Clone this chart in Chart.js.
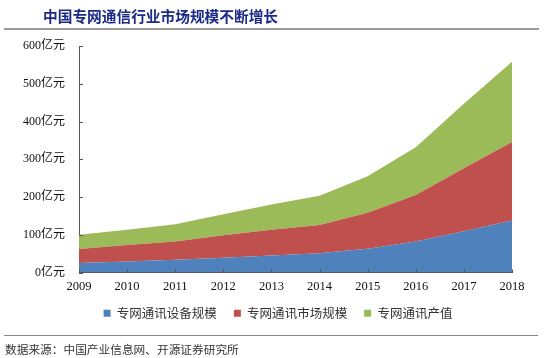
<!DOCTYPE html>
<html><head><meta charset="utf-8">
<script src="https://cdn.jsdelivr.net/npm/chart.js@4"></script>
<style>
html,body{margin:0;padding:0;background:#fff;width:554px;height:358px;overflow:hidden;}
#wrap{position:absolute;left:0;top:0;width:554px;height:358px;}
#title{position:absolute;left:43px;top:5px;font-family:'Noto Sans CJK SC';font-weight:bold;font-size:14.7px;color:#1b2a86;white-space:nowrap;letter-spacing:0px;}
#topline{position:absolute;left:4px;top:28px;width:535px;height:2px;background:#9a9a9a;}
#botline{position:absolute;left:4px;top:335px;width:534px;height:1px;background:#888;}
#src{position:absolute;left:5px;top:340px;font-family:'Noto Sans CJK SC';font-size:11.7px;color:#333;white-space:nowrap;}
</style></head>
<body>
<div id="wrap"><canvas id="c" width="554" height="358"></canvas></div>
<div id="title">中国专网通信行业市场规模不断增长</div>
<div id="topline"></div>
<div id="botline"></div>
<div id="src">数据来源：中国产业信息网、开源证券研究所</div>
<script>
const years = ['2009','2010','2011','2012','2013','2014','2015','2016','2017','2018'];
const equipment = [25, 29, 34, 39, 45, 51, 63, 82, 109, 138];
const market = [37, 44, 48, 60, 68, 75, 95, 123, 167, 208];
const output = [38, 40, 46, 55, 67, 77, 97, 127, 171, 212];
const seriesNames = ['专网通讯设备规模', '专网通讯市场规模', '专网通讯产值'];
const colors = ['#4F81BD', '#C0504D', '#9BBB59'];

const axisColor = '#555';
const innerTicks = {
  id: 'innerTicks',
  afterDatasetsDraw(chart) {
    const ctx = chart.ctx, x = chart.scales.x, y = chart.scales.y;
    ctx.save();
    ctx.strokeStyle = axisColor; ctx.lineWidth = 1;
    ctx.beginPath();
    y.ticks.forEach((t, i) => {
      const py = Math.round(y.getPixelForTick(i)) + 0.5;
      ctx.moveTo(x.left, py); ctx.lineTo(x.left + 4, py);
    });
    years.forEach((yr, i) => {
      const px = Math.round(x.getPixelForValue(i)) + 0.5;
      ctx.moveTo(px, y.bottom); ctx.lineTo(px, y.bottom - 3);
    });
    ctx.stroke();
    ctx.restore();
  }
};
// nudge the legend box so it sits where the original's legend sits
const legendShift = {
  id: 'legendShift',
  afterLayout(chart) {
    const lg = chart.legend;
    if (!lg) return;
    const dx = 15, dy = -11.5;
    lg.left += dx; lg.right += dx; lg.top += dy; lg.bottom += dy;
  }
};

new Chart(document.getElementById('c'), {
  type: 'line',
  data: {
    labels: years,
    datasets: [
      {label: seriesNames[0], data: equipment, backgroundColor: colors[0], borderColor: colors[0], fill: 'origin'},
      {label: seriesNames[1], data: market, backgroundColor: colors[1], borderColor: colors[1], fill: '-1'},
      {label: seriesNames[2], data: output, backgroundColor: colors[2], borderColor: colors[2], fill: '-1'}
    ]
  },
  options: {
    responsive: false,
    animation: false,
    elements: {point: {radius: 0}, line: {tension: 0, borderWidth: 0}},
    layout: {padding: {left: 14, right: 42, top: 46, bottom: 17}},
    plugins: {
      tooltip: {enabled: false},
      legend: {
        position: 'bottom',
        labels: {
          boxWidth: 7, boxHeight: 7, padding: 17,
          color: '#333',
          font: {family: "'Noto Sans CJK SC'", size: 12.5}
        }
      }
    },
    scales: {
      x: {
        type: 'category',
        offset: false,
        grid: {display: false, drawTicks: false},
        border: {display: true, color: axisColor, width: 1},
        ticks: {color: '#111', padding: 7, maxRotation: 0, autoSkip: false,
          font: {family: "'Liberation Serif'", size: 12.5}}
      },
      y: {
        stacked: true,
        min: 0, max: 600,
        grid: {display: false, drawTicks: false},
        border: {display: true, color: axisColor, width: 1},
        afterFit(s) { s.width = 65; },
        ticks: {stepSize: 100, padding: 14, color: '#111',
          font: {family: "'Liberation Serif', 'Noto Sans CJK SC'", size: 12},
          callback: v => v + '亿元'}
      }
    }
  },
  plugins: [innerTicks, legendShift]
});
</script>
</body></html>
